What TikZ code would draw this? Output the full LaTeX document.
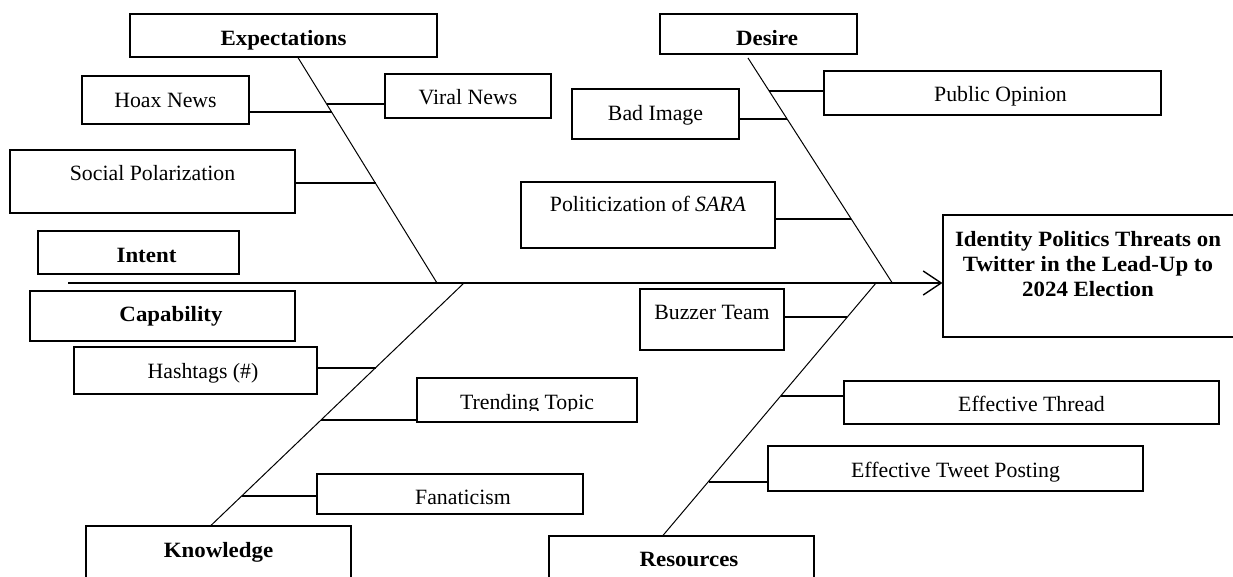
\documentclass[tikz,border=0pt]{standalone}
\usepackage{fontspec}
\setmainfont{Liberation Serif}[BoldFeatures={FakeStretch=1.05}]
\usetikzlibrary{arrows.meta}
\newcommand{\mainsize}{\fontsize{21.8pt}{24.6pt}\selectfont}
\tikzset{
  box/.style={draw=black, line width=1.2pt, inner sep=0pt, font=\mainsize},
  boxb/.style={box, font=\mainsize\bfseries},
  bone/.style={draw=black, line width=1pt},
  rib/.style={draw=black, line width=1.1pt},
  spine/.style={draw=black, line width=2pt, -{Straight Barb[length=18pt, width=24pt, line width=1.4pt]}},
}
\begin{document}
\begin{tikzpicture}[x=1pt, y=-1pt]
\clip (0,0) rectangle (1233,576);
\fill[white] (0,0) rectangle (1233,576);

% category boxes
\node[boxb, minimum width=307pt, minimum height=43pt, text height=31pt, text depth=12pt] (exp) at (283.5,35.5) {Expectations};
\node[boxb, minimum width=197pt, minimum height=40pt, text height=31pt, text depth=9pt] (des) at (758.5,34) {\hspace*{17pt}Desire};
\node[boxb, minimum width=201pt, minimum height=43pt, text height=31.7pt, text depth=11.3pt] (intent) at (138.5,252.5) {\hspace*{16pt}Intent};
\node[boxb, minimum width=265pt, minimum height=50pt, text height=30.3pt, text depth=19.7pt] (cap) at (162.5,316) {\hspace*{17pt}Capability};
\node[boxb, minimum width=265pt, minimum height=64pt, text height=31.3pt, text depth=32.7pt] (know) at (218.5,558) {Knowledge};
\node[boxb, minimum width=265pt, minimum height=64pt, text height=30pt, text depth=34pt] (res) at (681.5,568) {\hspace*{15pt}Resources};

% cause boxes
\node[box, minimum width=167pt, minimum height=48pt, text height=31pt, text depth=17pt] (hoax) at (165.5,100) {Hoax News};
\node[box, minimum width=166pt, minimum height=44pt, text height=30.3pt, text depth=13.7pt] (viral) at (468,96) {Viral News};
\node[box, minimum width=285pt, minimum height=63pt, text height=30pt, text depth=33pt] (soc) at (152.5,181.5) {Social Polarization};
\node[box, minimum width=167pt, minimum height=50pt, text height=31pt, text depth=19pt] (bad) at (655.5,114) {Bad Image};
\node[box, minimum width=337pt, minimum height=44pt, text height=30.7pt, text depth=13.3pt] (pub) at (992.5,93) {\hspace*{16pt}Public Opinion};
\node[box, minimum width=254pt, minimum height=66pt, text height=29.7pt, text depth=36.3pt] (pol) at (648,215) {Politicization of \textit{SARA}};
\node[box, minimum width=243pt, minimum height=47pt, text height=31pt, text depth=16pt] (hash) at (195.5,370.5) {\hspace*{15pt}Hashtags (\#)};
\node[box, minimum width=220pt, minimum height=44pt, text height=31.7pt, text depth=12.3pt] (trend) at (527,400) {Trending Topic};
\fill[white] (419,411) rectangle (635,420.8);
\node[box, minimum width=266pt, minimum height=40pt, text height=30.7pt, text depth=9.3pt] (fan) at (450,494) {\hspace*{26pt}Fanaticism};
\node[box, minimum width=144pt, minimum height=61pt, text height=30.7pt, text depth=30.3pt] (buzz) at (712,319.5) {Buzzer Team};
\node[box, minimum width=375pt, minimum height=43pt, text height=30.3pt, text depth=12.7pt] (thread) at (1031.5,402.5) {Effective Thread};
\node[box, minimum width=375pt, minimum height=45pt, text height=31.3pt, text depth=13.7pt] (tweet) at (955.5,468.5) {Effective Tweet Posting};

% effect box
\node[box, minimum width=297pt, minimum height=122pt] (goal) at (1091.5,276) {};
\node[font=\mainsize\bfseries, align=center, inner sep=0pt] (goaltext) at (1088,264)
  {Identity Politics Threats on\\Twitter in the Lead-Up to\\2024 Election};

% spine
\coordinate (tail) at (68,283);
\draw[spine] (tail) -- (tail -| goal.west);

% bones
\coordinate (eS) at (437,283);
\draw[bone] ([xshift=14.5pt]exp.south) -- (eS);
\coordinate (dT) at (748,58);
\coordinate (dS) at (892.3,283);
\draw[bone] (dT) -- (dS);
\coordinate (kS) at (464,283);
\draw[bone] ([xshift=-7.5pt]know.north) -- (kS);
\coordinate (rS) at (876,283);
\draw[bone] ([xshift=-18.5pt]res.north) -- (rS);

% ribs
\coordinate (rViral) at (326.9,104);
\draw[rib] (rViral) -- (rViral -| viral.west);
\coordinate (rHoax) at (331.8,112);
\draw[rib] (rHoax -| hoax.east) -- (rHoax);
\coordinate (rSoc) at (375.5,183);
\draw[rib] (rSoc -| soc.east) -- (rSoc);
\coordinate (rPub) at (769.2,91);
\draw[rib] (rPub) -- (rPub -| pub.west);
\coordinate (rBad) at (787.1,119);
\draw[rib] (rBad -| bad.east) -- (rBad);
\coordinate (rPol) at (851.2,219);
\draw[rib] (rPol -| pol.east) -- (rPol);
\coordinate (rHash) at (375.5,368);
\draw[rib] (rHash -| hash.east) -- (rHash);
\coordinate (rTrend) at (321.4,420);
\draw[rib] (rTrend) -- (rTrend -| trend.west);
\coordinate (rFan) at (242.2,496);
\draw[rib] (rFan) -- (rFan -| fan.west);
\coordinate (rBuzz) at (847.4,317);
\draw[rib] (rBuzz -| buzz.east) -- (rBuzz);
\coordinate (rThread) at (780.9,396);
\draw[rib] (rThread) -- (rThread -| thread.west);
\coordinate (rTweet) at (708.5,482);
\draw[rib] (rTweet) -- (rTweet -| tweet.west);
\end{tikzpicture}
\end{document}
